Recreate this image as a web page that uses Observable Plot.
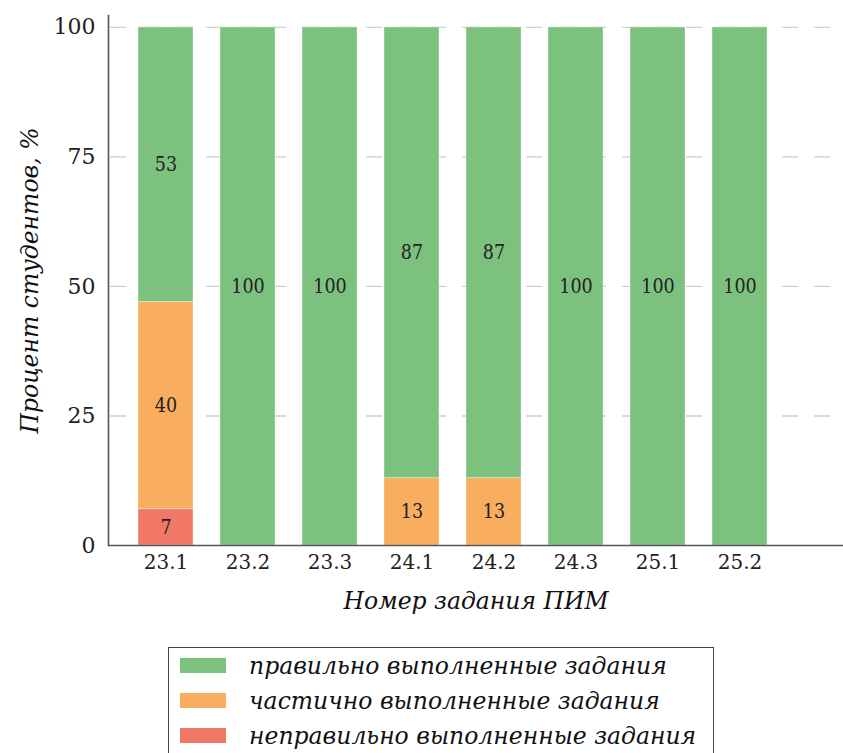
<!DOCTYPE html>
<html>
<head>
<meta charset="utf-8">
<script src="https://cdn.jsdelivr.net/npm/d3@7"></script>
<script src="https://cdn.jsdelivr.net/npm/@observablehq/plot@0.6"></script>
<style>
  body { margin: 0; background: #fff; font-family: "DejaVu Serif", serif; }
  #chart svg { display: block; }
  .legend { position: absolute; left: 168px; top: 647px; width: 546px; height: 120px; border: 1px solid #444; box-sizing: border-box; padding-top: 0px; }
  .legend .row { display: flex; align-items: center; height: 35px; }
  .legend .sw { width: 46px; height: 15px; margin-left: 11px; margin-right: 23px; }
  .legend .lbl { font-style: italic; font-size: 23.5px; color: #111; white-space: nowrap; }
</style>
</head>
<body>
<div id="chart"></div>
<div class="legend" id="legend"></div>
<script>
const tasks = ["23.1", "23.2", "23.3", "24.1", "24.2", "24.3", "25.1", "25.2"];
const incorrect = [7, 0, 0, 0, 0, 0, 0, 0];
const partial = [40, 0, 0, 13, 13, 0, 0, 0];
const correct = [53, 100, 100, 87, 87, 100, 100, 100];
const types = ["неправильно выполненные задания", "частично выполненные задания", "правильно выполненные задания"];
const colors = ["#f17866", "#f9ad5e", "#7dc17e"];
const yTicks = [0, 25, 50, 75, 100];
const gridTicks = [25, 50, 75, 100];
const xTitle = "Номер задания ПИМ";
const yTitle = "Процент студентов, %";

const series = [incorrect, partial, correct];
const rows = [];
series.forEach((vals, k) => vals.forEach((v, i) => rows.push({task: tasks[i], type: types[k], value: v})));

const chart = Plot.plot({
  width: 843,
  height: 625,
  marginLeft: 108,
  marginRight: 0,
  marginTop: 15,
  marginBottom: 80,
  style: {fontFamily: "DejaVu Serif", background: "#fff"},
  x: {domain: tasks, range: [108, 796], paddingInner: 0.334, paddingOuter: 0.333},
  y: {domain: [0, 102.3]},
  color: {domain: types, range: colors},
  marks: [
    Plot.ruleY(gridTicks, {stroke: "#cfcfcf", strokeWidth: 1.3, strokeDasharray: "16,16", dx: 2}),
    Plot.barY(rows, {x: "task", y: "value", fill: "type", stroke: "#ffffff", strokeOpacity: 0.35, strokeWidth: 1}),
    Plot.text(rows, Plot.stackY({x: "task", y: "value", z: "type", text: "value", filter: d => d.value > 0,
      fontFamily: "DejaVu Serif Condensed", fontSize: 19.5, fill: "#222"})),
    Plot.axisX({tickSize: 0, tickPadding: 9, fontSize: 20, label: null, fill: "#222"}),
    Plot.axisY({ticks: yTicks, tickSize: 0, tickPadding: 13, fontSize: 22, label: null, fill: "#222"}),
    Plot.ruleY([0], {stroke: "#555", strokeWidth: 1.6}),
    Plot.frame({anchor: "left", stroke: "#555", strokeWidth: 1.6}),
    Plot.text([xTitle], {text: d => d, frameAnchor: "bottom", lineAnchor: "middle", dy: 56, fontStyle: "italic", fontSize: 23.5, fill: "#111"}),
    Plot.text([yTitle], {text: d => d, frameAnchor: "left", textAnchor: "middle", lineAnchor: "middle", dx: -78, rotate: -90, fontStyle: "italic", fontSize: 23.5, fill: "#111"})
  ]
});
document.getElementById("chart").appendChild(chart);

const legend = document.getElementById("legend");
[2, 1, 0].forEach(k => {
  const row = document.createElement("div");
  row.className = "row";
  const sw = document.createElement("div");
  sw.className = "sw";
  sw.style.background = colors[k];
  const lbl = document.createElement("span");
  lbl.className = "lbl";
  lbl.textContent = types[k];
  row.appendChild(sw);
  row.appendChild(lbl);
  legend.appendChild(row);
});
</script>
</body>
</html>
